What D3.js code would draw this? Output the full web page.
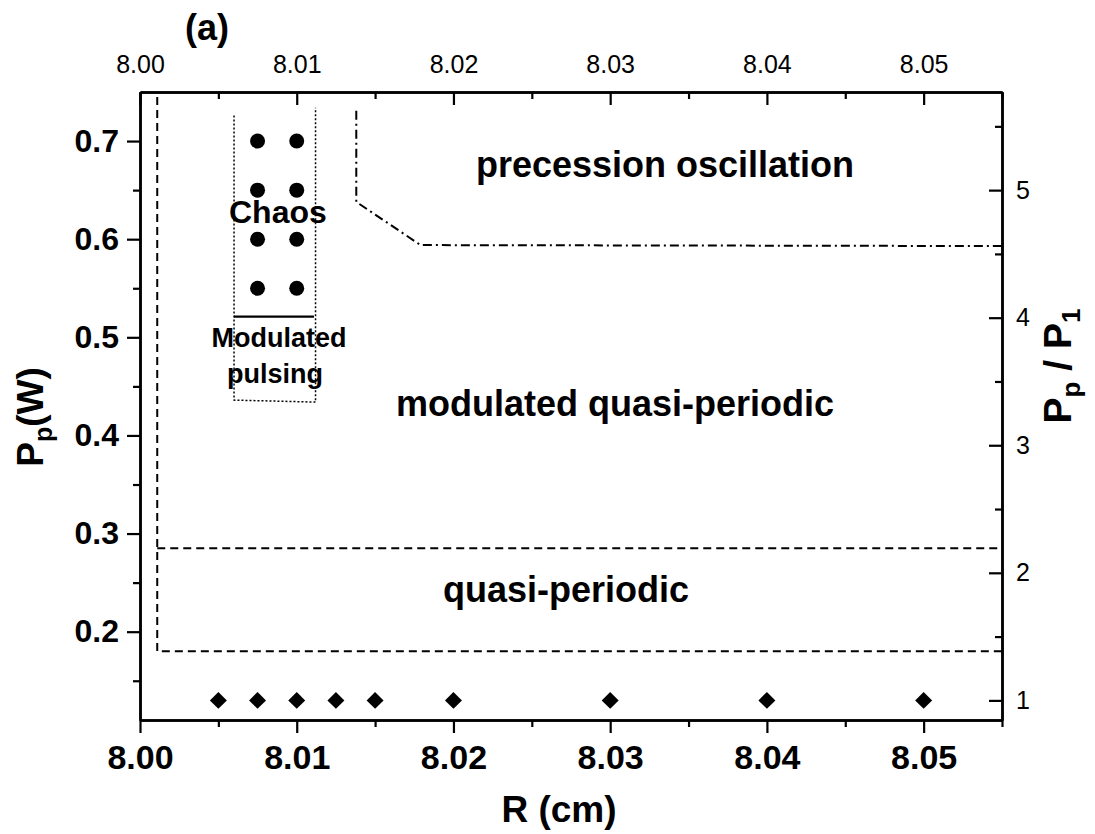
<!DOCTYPE html>
<html>
<head>
<meta charset="utf-8">
<script src="https://cdn.jsdelivr.net/npm/d3@7"></script>
<style>
  body { margin: 0; background: #fff; }
  svg { font-family: "Liberation Sans", Arial, sans-serif; }
</style>
</head>
<body>
<div id="chart"></div>
<script>
// data
const xTicks = [8.00, 8.01, 8.02, 8.03, 8.04, 8.05];
const xMinor = [8.005, 8.015, 8.025, 8.035, 8.045, 8.055];
const yTicks = [0.2, 0.3, 0.4, 0.5, 0.6, 0.7];
const yMinor = [0.15, 0.25, 0.35, 0.45, 0.55, 0.65];
const ratioTicks = [1, 2, 3, 4, 5];
const ratioMinor = [1.5, 2.5, 3.5, 4.5, 5.5];
const P1 = 0.13;

// chaos points (circles)
const chaosR = [8.0075, 8.01];
const chaosP = [0.70, 0.65, 0.60, 0.55];

// quasi-periodic threshold points (diamonds) at Pp = P1
const thresholdR = [8.005, 8.0075, 8.01, 8.0125, 8.015, 8.02, 8.03, 8.04, 8.05];

// region boundaries
const quasiLower = [[8.0011, 0.745], [8.0011, 0.180], [8.055, 0.180]];
const quasiUpper = [[8.0011, 0.285], [8.055, 0.285]];
const precession = [[8.0138, 0.731], [8.0138, 0.638], [8.0179, 0.594], [8.055, 0.593]];
const pulsingBox = [[8.006, 0.726], [8.006, 0.436], [8.0112, 0.434], [8.0112, 0.734]];
const chaosEdge = [[8.006, 0.521], [8.0111, 0.521]];

const width = 1095, height = 834;
const plotLeft = 140, plotRight = 1002, plotTop = 92, plotBottom = 720;

const svg = d3.select("#chart").append("svg")
    .attr("width", width)
    .attr("height", height);

const x = d3.scaleLinear().domain([8.00, 8.055]).range([plotLeft, plotRight]);
const y = d3.scaleLinear().domain([0.11, 0.75]).range([plotBottom, plotTop]);
const yRatio = d3.scaleLinear().domain([0.11 / P1, 0.75 / P1]).range([plotBottom, plotTop]);

function styleAxis(g) {
    g.select(".domain").attr("stroke-width", 2.5);
    g.selectAll(".tick line").attr("stroke-width", 2.2);
}

// bottom axis
svg.append("g")
    .attr("transform", `translate(0,${plotBottom})`)
    .call(d3.axisBottom(x).tickValues(xTicks).tickFormat(d3.format(".2f")).tickSize(13).tickSizeOuter(0))
    .call(styleAxis)
    .call(g => g.selectAll("text").attr("dy", null).attr("y", 49)
        .attr("font-size", 34).attr("font-weight", "bold").attr("font-family", "Liberation Sans, Arial"));
svg.append("g")
    .attr("transform", `translate(0,${plotBottom})`)
    .call(d3.axisBottom(x).tickValues(xMinor).tickFormat("").tickSize(7).tickSizeOuter(0))
    .call(styleAxis);

// top axis, ticks inward
svg.append("g")
    .attr("transform", `translate(0,${plotTop})`)
    .call(d3.axisTop(x).tickValues(xTicks).tickFormat(d3.format(".2f")).tickSize(-13).tickSizeOuter(0).tickPadding(19))
    .call(styleAxis)
    .call(g => g.selectAll("text").attr("font-size", 25).attr("font-family", "Liberation Sans, Arial"));
svg.append("g")
    .attr("transform", `translate(0,${plotTop})`)
    .call(d3.axisTop(x).tickValues(xMinor).tickFormat("").tickSize(-7).tickSizeOuter(0))
    .call(styleAxis);

// left axis
svg.append("g")
    .attr("transform", `translate(${plotLeft},0)`)
    .call(d3.axisLeft(y).tickValues(yTicks).tickFormat(d3.format(".1f")).tickSize(13).tickSizeOuter(0).tickPadding(8))
    .call(styleAxis)
    .call(g => g.selectAll("text").attr("font-size", 32).attr("font-weight", "bold").attr("font-family", "Liberation Sans, Arial"));
svg.append("g")
    .attr("transform", `translate(${plotLeft},0)`)
    .call(d3.axisLeft(y).tickValues(yMinor).tickFormat("").tickSize(7).tickSizeOuter(0))
    .call(styleAxis);

// right axis, Pp / P1, ticks inward
svg.append("g")
    .attr("transform", `translate(${plotRight},0)`)
    .call(d3.axisRight(yRatio).tickValues(ratioTicks).tickFormat(d3.format("d")).tickSize(-13).tickSizeOuter(0).tickPadding(14))
    .call(styleAxis)
    .call(g => g.selectAll("text").attr("font-size", 25).attr("font-family", "Liberation Sans, Arial"));
svg.append("g")
    .attr("transform", `translate(${plotRight},0)`)
    .call(d3.axisRight(yRatio).tickValues(ratioMinor).tickFormat("").tickSize(-7).tickSizeOuter(0))
    .call(styleAxis);

// boundary lines
const line = d3.line().x(d => x(d[0])).y(d => y(d[1]));

svg.append("path").datum(quasiLower)
    .attr("d", line).attr("fill", "none").attr("stroke", "#000")
    .attr("stroke-width", 2).attr("stroke-dasharray", "8,5");
svg.append("path").datum(quasiUpper)
    .attr("d", line).attr("fill", "none").attr("stroke", "#000")
    .attr("stroke-width", 2).attr("stroke-dasharray", "8,5");
svg.append("path").datum(precession)
    .attr("d", line).attr("fill", "none").attr("stroke", "#000")
    .attr("stroke-width", 2).attr("stroke-dasharray", "9,4,2,4");
svg.append("path").datum(pulsingBox)
    .attr("d", line).attr("fill", "none").attr("stroke", "#000")
    .attr("stroke-width", 1.5).attr("stroke-dasharray", "2,2");
svg.append("path").datum(chaosEdge)
    .attr("d", line).attr("fill", "none").attr("stroke", "#000")
    .attr("stroke-width", 2.2);

// chaos circles
const chaosPts = chaosP.flatMap(p => chaosR.map(r => [r, p]));
svg.append("g").selectAll("circle")
    .data(chaosPts)
    .join("circle")
    .attr("cx", d => x(d[0]))
    .attr("cy", d => y(d[1]))
    .attr("r", 7.5)
    .attr("fill", "#000");

// diamonds at Pp = P1
svg.append("g").selectAll("path")
    .data(thresholdR)
    .join("path")
    .attr("d", d3.symbol(d3.symbolSquare, 144))
    .attr("transform", d => `translate(${x(d)},${y(P1)}) rotate(45)`)
    .attr("fill", "#000");

// region labels
const labels = svg.append("g").attr("font-weight", "bold").attr("fill", "#000");
labels.append("text").attr("x", 665).attr("y", 177).attr("text-anchor", "middle")
    .attr("font-size", 36).text("precession oscillation");
labels.append("text").attr("x", 229).attr("y", 223)
    .attr("font-size", 32).text("Chaos");
labels.append("text").attr("x", 279).attr("y", 347).attr("text-anchor", "middle")
    .attr("font-size", 27).text("Modulated");
labels.append("text").attr("x", 275).attr("y", 383).attr("text-anchor", "middle")
    .attr("font-size", 27).text("pulsing");
labels.append("text").attr("x", 615).attr("y", 416).attr("text-anchor", "middle")
    .attr("font-size", 36).text("modulated quasi-periodic");
labels.append("text").attr("x", 566).attr("y", 602).attr("text-anchor", "middle")
    .attr("font-size", 36).text("quasi-periodic");

// panel tag
svg.append("text").attr("x", 185).attr("y", 40)
    .attr("font-size", 36).attr("font-weight", "bold").text("(a)");

// axis titles
svg.append("text").attr("x", 559).attr("y", 822).attr("text-anchor", "middle")
    .attr("font-size", 37).attr("font-weight", "bold").text("R (cm)");

const yTitle = svg.append("text")
    .attr("transform", "translate(43,417) rotate(-90)")
    .attr("text-anchor", "middle")
    .attr("font-size", 37).attr("font-weight", "bold");
yTitle.append("tspan").text("P");
yTitle.append("tspan").attr("font-size", 25).attr("dy", 9).text("p");
yTitle.append("tspan").attr("dy", -9).text("(W)");

const rTitle = svg.append("text")
    .attr("transform", "translate(1071,366) rotate(-90)")
    .attr("text-anchor", "middle")
    .attr("font-size", 39).attr("font-weight", "bold");
rTitle.append("tspan").text("P");
rTitle.append("tspan").attr("font-size", 26).attr("dy", 9).text("p");
rTitle.append("tspan").attr("dy", -9).text(" / P");
rTitle.append("tspan").attr("font-size", 26).attr("dy", 9).text("1");
</script>
</body>
</html>
